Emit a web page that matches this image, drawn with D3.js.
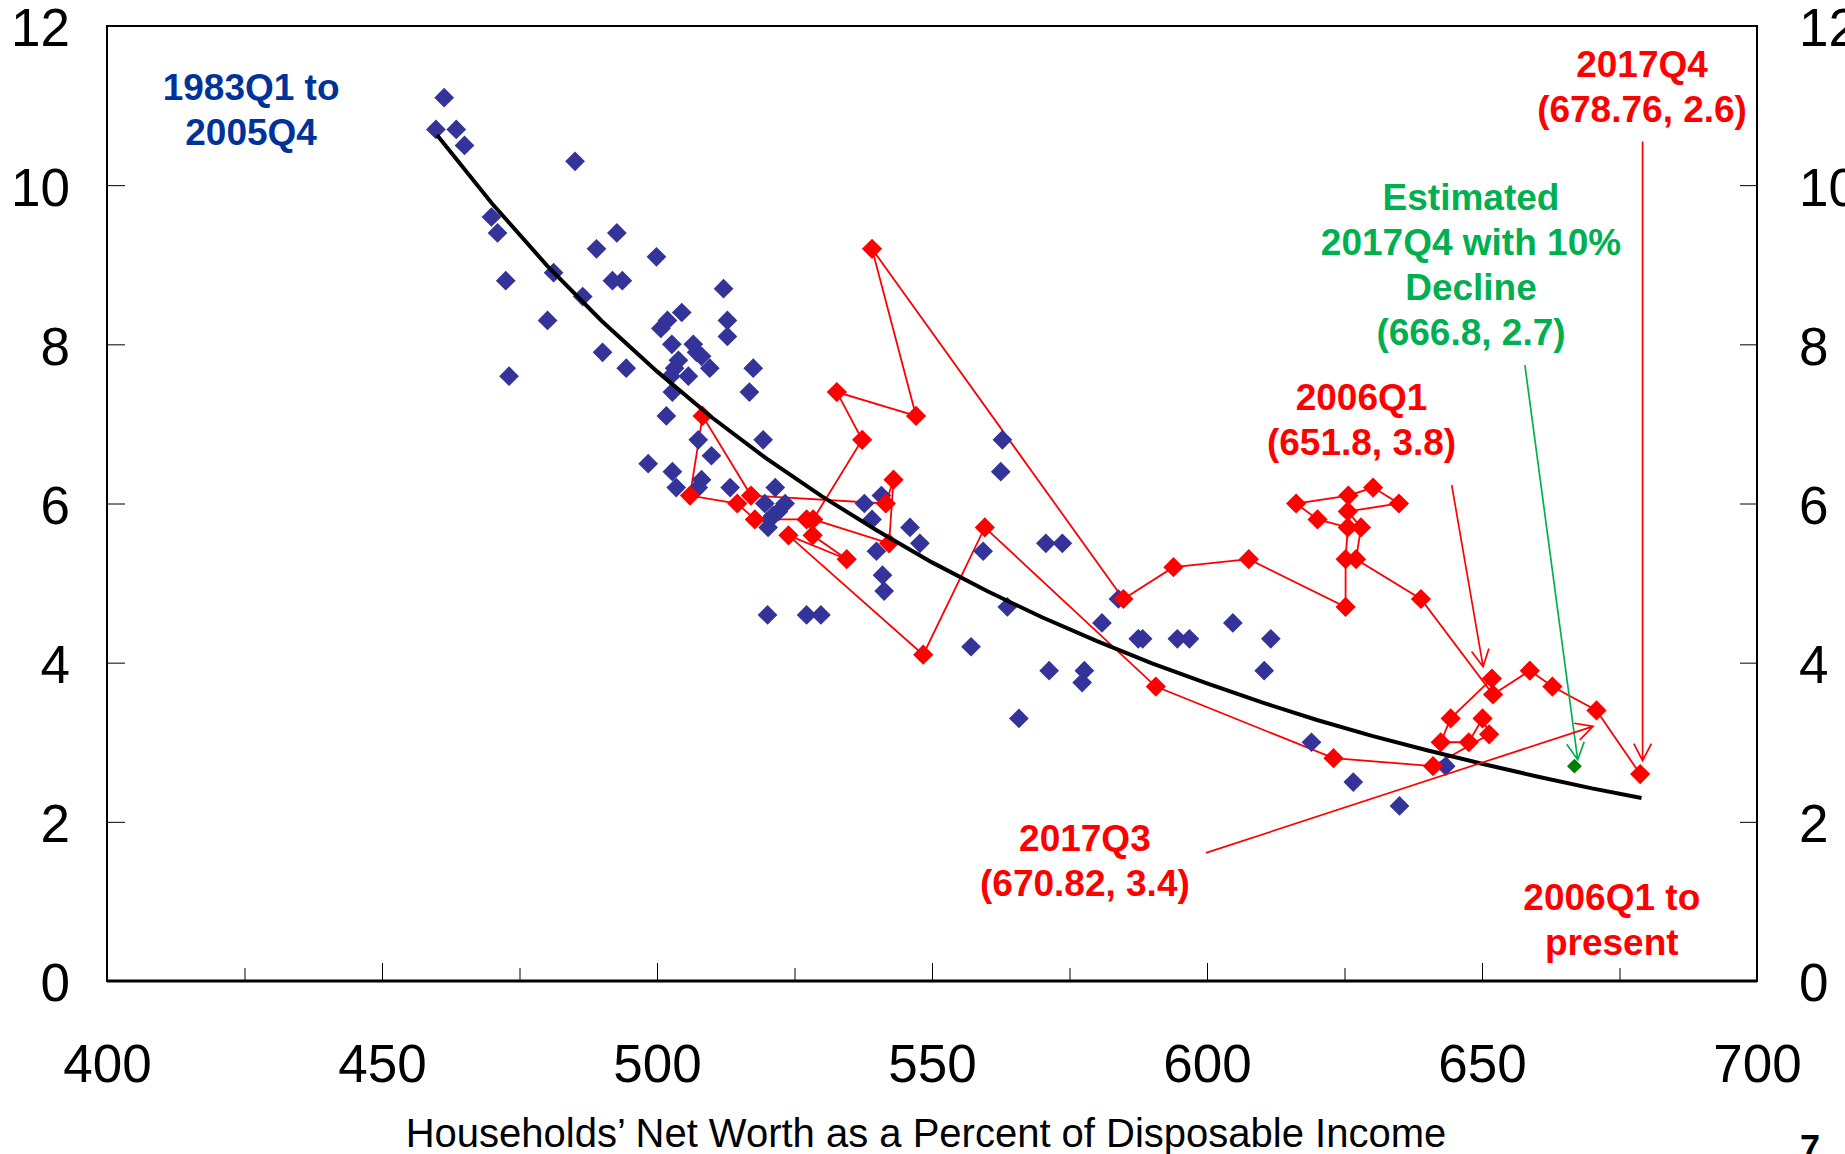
<!DOCTYPE html>
<html lang="en">
<head>
<meta charset="UTF-8">
<title>Net Worth vs Saving Rate</title>
<script src="https://cdn.jsdelivr.net/npm/d3@7"></script>
<style>
  body { margin: 0; background: #fff; }
  svg { display: block; }
</style>
</head>
<body>
<div id="chart"></div>
<script>
// 1983Q1 to 2005Q4 (blue diamonds)
const blueX = [461.3, 459.8, 463.5, 465.0, 485.1, 469.9, 471.0, 492.7, 489.0, 499.9,
  472.5, 481.2, 491.9, 493.7, 486.5, 512.1, 480.1, 504.5, 501.9, 500.7,
  512.8, 512.8, 502.7, 473.1, 490.1, 494.4, 506.6, 507.2, 508.1, 509.6,
  503.9, 503.2, 505.7, 502.5, 517.5, 516.8, 502.8, 501.7, 519.3, 507.5,
  509.9, 498.4, 502.8, 508.1, 503.5, 507.5, 513.3, 521.5, 519.6, 523.3,
  521.1, 520.2, 522.1, 520.5, 537.7, 540.8, 539.1, 546.0, 547.8, 539.9,
  541.0, 541.3, 520.1, 527.2, 529.8, 562.8, 562.5, 559.3, 570.7, 573.7,
  563.7, 557.1, 583.9, 580.9, 587.5, 588.3, 594.6, 596.8, 604.7, 611.6,
  610.4, 571.3, 577.7, 577.3, 565.8, 619.0, 626.6, 635.0, 643.4]
const blueY = [11.1, 10.7, 10.7, 10.5, 10.3, 9.6, 9.4, 9.4, 9.2, 9.1,
  8.8, 8.9, 8.8, 8.8, 8.6, 8.7, 8.3, 8.4, 8.3, 8.2,
  8.3, 8.1, 8.0, 7.6, 7.9, 7.7, 8.0, 7.9, 7.85, 7.7,
  7.8, 7.7, 7.6, 7.6, 7.7, 7.4, 7.4, 7.1, 6.8, 6.8,
  6.6, 6.5, 6.4, 6.3, 6.2, 6.2, 6.2, 6.2, 6.0, 6.0,
  5.85, 5.7, 5.9, 5.8, 6.0, 6.1, 5.8, 5.7, 5.5, 5.4,
  5.1, 4.9, 4.6, 4.6, 4.6, 6.8, 6.4, 5.4, 5.5, 5.5,
  4.7, 4.2, 4.8, 4.5, 4.3, 4.3, 4.3, 4.3, 4.5, 4.3,
  3.9, 3.9, 3.9, 3.75, 3.3, 3.0, 2.5, 2.2, 2.7]

// 2006Q1 to 2017Q4 (red, connected in time order)
const redX = [651.8, 644.3, 642.5, 647.6, 650.1, 651.3, 641.1, 623.0, 590.7, 559.6,
  548.4, 523.9, 534.5, 528.3, 527.2, 517.8, 514.6, 506.0, 508.3, 517.1,
  541.6, 543.0, 542.2, 528.4, 537.3, 532.7, 547.1, 539.1, 584.8, 593.9,
  607.6, 625.2, 625.2, 625.6, 620.1, 616.2, 625.7, 630.2, 634.9, 625.6,
  628.0, 627.1, 638.9, 652.0, 658.7, 662.8, 670.82, 678.76]
const redY = [3.8, 3.3, 3.0, 3.0, 3.3, 3.1, 2.7, 2.8, 3.7, 5.7,
  4.1, 5.6, 5.3, 5.6, 5.8, 5.8, 6.0, 6.1, 7.1, 6.1,
  6.0, 6.3, 5.5, 5.8, 6.8, 7.4, 7.1, 9.2, 4.8, 5.2,
  5.3, 4.7, 5.3, 5.7, 5.8, 6.0, 6.1, 6.2, 6.0, 5.9,
  5.7, 5.3, 4.8, 3.6, 3.9, 3.7, 3.4, 2.6]

// estimated 2017Q4 with 10% decline (green)
const estX = [666.8]
const estY = [2.7]

// fitted curve (black)
const fitX = [460, 470, 480, 490, 500, 510, 520, 530, 540, 550, 560, 570,
  580, 590, 600, 610, 620, 630, 640, 650, 660, 670, 679]
const fitY = [10.63, 9.77, 8.99, 8.29, 7.66, 7.08, 6.56, 6.09, 5.66, 5.26, 4.90, 4.57,
  4.27, 3.99, 3.74, 3.50, 3.28, 3.08, 2.90, 2.73, 2.57, 2.42, 2.30]

const xTicks = [400, 450, 500, 550, 600, 650, 700]
const xMinorTicks = [425, 475, 525, 575, 625, 675]
const yTicks = [0, 2, 4, 6, 8, 10, 12]
const xTitle = 'Households\u2019 Net Worth as a Percent of Disposable Income'

const notes = [
  { lines: ['1983Q1 to', '2005Q4'], at: [426.2, 11.07], color: '#003399' },
  { lines: ['2017Q4', '(678.76, 2.6)'], at: [679.1, 11.36], color: '#ff0000' },
  { lines: ['Estimated', '2017Q4 with 10%', 'Decline', '(666.8, 2.7)'], at: [648.0, 9.69], color: '#00b050' },
  { lines: ['2006Q1', '(651.8, 3.8)'], at: [628.1, 7.175], color: '#ff0000' },
  { lines: ['2017Q3', '(670.82, 3.4)'], at: [577.8, 1.63], color: '#ff0000' },
  { lines: ['2006Q1 to', 'present'], at: [673.6, 0.89], color: '#ff0000' }
]
const arrows = [
  { from: [679.2, 10.55], to: [679.2, 2.77], color: '#ff0000' },
  { from: [657.8, 7.74], to: [667.4, 2.78], color: '#00b050' },
  { from: [644.5, 6.23], to: [650.2, 3.95], color: '#ff0000' },
  { from: [599.8, 1.61], to: [670.2, 3.20], color: '#ff0000' }
]

const width = 1845
const height = 1154
const plot = { left: 107, right: 1757, top: 26, bottom: 981 }
const font = '"Liberation Sans", Arial, sans-serif'

const svg = d3.select('#chart').append('svg')
  .attr('width', width)
  .attr('height', height)
  .style('font-family', font)

const x = d3.scaleLinear().domain([400, 700]).range([plot.left, plot.right])
const y = d3.scaleLinear().domain([0, 12]).range([plot.bottom, plot.top])

// frame
svg.append('rect')
  .attr('x', plot.left)
  .attr('y', plot.top)
  .attr('width', plot.right - plot.left)
  .attr('height', plot.bottom - plot.top)
  .attr('fill', 'none')
  .attr('stroke', '#000')
  .attr('stroke-width', 2)

svg.append('line')
  .attr('x1', plot.left).attr('x2', plot.right)
  .attr('y1', plot.bottom).attr('y2', plot.bottom)
  .attr('stroke', '#000')
  .attr('stroke-width', 3)

function styleAxis(g, size) {
  g.select('.domain').remove()
  g.attr('font-family', font).attr('font-size', size)
  g.selectAll('line').attr('stroke', '#000')
  g.selectAll('text').attr('fill', '#000')
}

// x ticks (inside, two lengths)
svg.append('g')
  .attr('transform', `translate(0,${plot.bottom})`)
  .call(d3.axisBottom(x).tickValues(xTicks.slice(1, -1)).tickSizeInner(-18).tickSizeOuter(0).tickFormat(''))
  .call(styleAxis, 10)
svg.append('g')
  .attr('transform', `translate(0,${plot.bottom})`)
  .call(d3.axisBottom(x).tickValues(xMinorTicks).tickSizeInner(-13).tickSizeOuter(0).tickFormat(''))
  .call(styleAxis, 10)
svg.append('g')
  .attr('transform', `translate(0,${plot.bottom})`)
  .call(d3.axisBottom(x).tickValues(xTicks).tickSize(0).tickPadding(63))
  .call(styleAxis, 53)

// y ticks both sides
svg.append('g')
  .attr('transform', `translate(${plot.left},0)`)
  .call(d3.axisLeft(y).tickValues(yTicks.slice(1, -1)).tickSizeInner(-18).tickSizeOuter(0).tickFormat(''))
  .call(styleAxis, 10)
svg.append('g')
  .attr('transform', `translate(${plot.left},3)`)
  .call(d3.axisLeft(y).tickValues(yTicks).tickSize(0).tickPadding(37))
  .call(styleAxis, 53)
svg.append('g')
  .attr('transform', `translate(${plot.right},0)`)
  .call(d3.axisRight(y).tickValues(yTicks.slice(1, -1)).tickSizeInner(-17).tickSizeOuter(0).tickFormat(''))
  .call(styleAxis, 10)
svg.append('g')
  .attr('transform', `translate(${plot.right},3)`)
  .call(d3.axisRight(y).tickValues(yTicks).tickSize(0).tickPadding(42))
  .call(styleAxis, 53)

svg.append('text')
  .attr('x', (x(400) + x(700)) / 2 - 6)
  .attr('y', 1147)
  .attr('text-anchor', 'middle')
  .attr('font-size', 40)
  .text(xTitle)

// page number
svg.append('text')
  .attr('x', 1800)
  .attr('y', 1161)
  .attr('font-size', 36)
  .attr('font-weight', 'bold')
  .text('7')

const blue = blueX.map((v, i) => [v, blueY[i]])
const red = redX.map((v, i) => [v, redY[i]])
const est = estX.map((v, i) => [v, estY[i]])
const fit = fitX.map((v, i) => [v, fitY[i]])

const diamond = (size) => d3.symbol().type(d3.symbolSquare).size(size)

const line = d3.line().x(d => x(d[0])).y(d => y(d[1]))

svg.append('path')
  .datum(red)
  .attr('d', line)
  .attr('fill', 'none')
  .attr('stroke', '#ff0000')
  .attr('stroke-width', 1.8)

svg.append('g').selectAll('path')
  .data(blue)
  .join('path')
  .attr('d', diamond(195))
  .attr('transform', d => `translate(${x(d[0])},${y(d[1])}) rotate(45)`)
  .attr('fill', '#333399')

svg.append('g').selectAll('path')
  .data(red)
  .join('path')
  .attr('d', diamond(205))
  .attr('transform', d => `translate(${x(d[0])},${y(d[1])}) rotate(45)`)
  .attr('fill', '#ff0000')

svg.append('path')
  .datum(fit)
  .attr('d', line)
  .attr('fill', 'none')
  .attr('stroke', '#000')
  .attr('stroke-width', 4)

svg.append('g').selectAll('path')
  .data(est)
  .join('path')
  .attr('d', diamond(110))
  .attr('transform', d => `translate(${x(d[0])},${y(d[1])}) rotate(45)`)
  .attr('fill', '#008000')

// annotation arrows
arrows.forEach(a => {
  const x1 = x(a.from[0]), y1 = y(a.from[1])
  const x2 = x(a.to[0]), y2 = y(a.to[1])
  const ang = Math.atan2(y2 - y1, x2 - x1)
  const len = 19, spread = 0.48
  const p = d3.path()
  p.moveTo(x1, y1)
  p.lineTo(x2, y2)
  p.moveTo(x2 - len * Math.cos(ang - spread), y2 - len * Math.sin(ang - spread))
  p.lineTo(x2, y2)
  p.lineTo(x2 - len * Math.cos(ang + spread), y2 - len * Math.sin(ang + spread))
  svg.append('path')
    .attr('d', p.toString())
    .attr('fill', 'none')
    .attr('stroke', a.color)
    .attr('stroke-width', 1.7)
})

// annotation labels
notes.forEach(n => {
  const t = svg.append('text')
    .attr('text-anchor', 'middle')
    .attr('font-size', 37)
    .attr('font-weight', 'bold')
    .attr('fill', n.color)
  n.lines.forEach((s, i) => {
    t.append('tspan')
      .attr('x', x(n.at[0]))
      .attr('y', y(n.at[1]) + i * 45)
      .text(s)
  })
})
</script>
</body>
</html>
